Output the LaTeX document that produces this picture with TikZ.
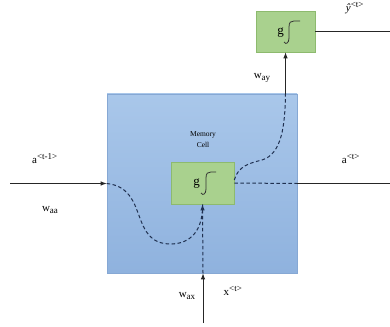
\documentclass[tikz,border=0pt]{standalone}
\usepackage{fontspec}
\setmainfont{Liberation Serif}
\usetikzlibrary{arrows.meta,calc}
\definecolor{celltop}{HTML}{A9C7EA}
\definecolor{cellbot}{HTML}{8FB2DE}
\definecolor{cellline}{HTML}{86A8D4}
\definecolor{gfill}{HTML}{A9D18E}
\definecolor{gline}{HTML}{8DBA6E}
\definecolor{dashc}{HTML}{1F3050}
\tikzset{
  cellbox/.style={draw=cellline, top color=celltop, bottom color=cellbot, line width=0.6pt, minimum width=190pt, minimum height=179pt, inner sep=0pt},
  gbox/.style={draw=gline, fill=gfill, line width=0.6pt, inner sep=0pt},
  solidline/.style={draw=black!85, line width=0.9pt},
  arr/.style={-{Latex[length=6pt,width=4.5pt]}},
  dline/.style={draw=dashc, line width=1pt, dash pattern=on 3.5pt off 2.5pt},
  lbl/.style={font=\fontsize{11}{13}\selectfont, inner sep=0pt},
  small/.style={font=\fontsize{7.5}{9}\selectfont, inner sep=0pt, align=center},
  sig/.style={draw=black!80, line width=0.8pt}
}
\newcommand{\supx}[1]{\textsuperscript{\fontsize{9}{10}\selectfont #1}}
\newcommand{\subx}[1]{\raisebox{-2.5pt}{\fontsize{9}{10}\selectfont #1}}
\begin{document}
\begin{tikzpicture}[x=1pt,y=-1pt]
\useasboundingbox (0,0) rectangle (390,326);
% boxes
\node[cellbox] (cell) at (202,183.5) {};
\node[gbox, minimum width=63pt, minimum height=42pt] (g1) at (202.5,183) {};
\node[gbox, minimum width=59pt, minimum height=41pt] (g2) at (285.5,31.5) {};
% memory cell text
\node[small] (mc) at (203,140) {Memory\\[2pt]Cell};
% g and sigmoid symbols
\node[lbl, font=\fontsize{13}{15}\selectfont] (gl1) at (196.5,184) {g};
\draw[sig] (201,193) .. controls (203,196) and (206,194) .. (206,189) -- (206,178) .. controls (206,173) and (208,172) .. (211,172) -- (216,172);
\node[lbl, font=\fontsize{13}{15}\selectfont] (gl2) at (280.5,33) {g};
\draw[sig] (284,42) .. controls (286,45) and (289,43) .. (289,38) -- (289,27) .. controls (289,22) and (291,21) .. (294,21) -- (300,21);
% coordinates
\coordinate (lin) at (10,183.5);
\coordinate (bin) at (203,323);
\coordinate (rout) at (390,183.5);
\coordinate (yout) at (390,31.5);
\coordinate (ctop) at (cell.north -| g2.south);
\coordinate (cbot) at (cell.south -| bin);
% left input
\draw[solidline, arr] (lin) -- (cell.west);
\draw[dline] (cell.west) .. controls (150,188) and (128,245) .. (172,244)
  .. controls (195,243) and (203,225) .. (g1.south);
% bottom input
\draw[solidline, arr] (bin) -- (cbot);
\draw[dline, arr] (cbot) -- (g1.south);
% right output
\draw[dline] (g1.east) -- (cell.east);
\draw[solidline] (cell.east) -- (rout);
% up to output box
\draw[dline] ($(g1.east)+(0,-3)$) .. controls (238,166) and (250,163) .. (262,160)
  .. controls (282,154) and (285,125) .. (ctop);
\draw[solidline, arr] (ctop) -- (g2.south);
\draw[solidline] (g2.east) -- (yout);
% labels
\node[lbl] (la1) at (45,159) {a\supx{<t-1>}};
\node[lbl] (lwaa) at (50,210) {w\subx{aa}};
\node[lbl] (lat) at (351,159) {a\supx{<t>}};
\node[lbl] (lwax) at (187,296) {w\subx{ax}};
\node[lbl] (lxt) at (233,291) {x\supx{<t>}};
\node[lbl] (lway) at (262,78) {w\subx{ay}};
\node[lbl] (lyt) at (355,8) {\textit{ŷ}\supx{<t>}};
\end{tikzpicture}
\end{document}
